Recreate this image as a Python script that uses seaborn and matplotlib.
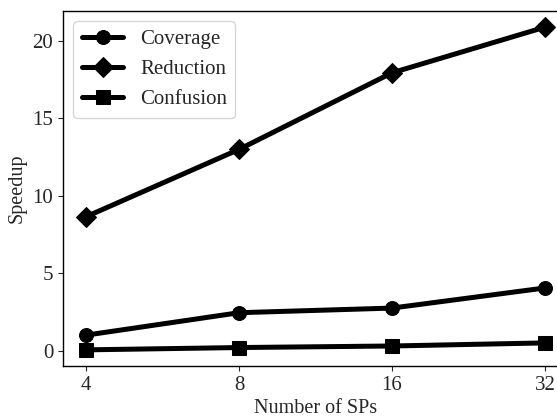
import matplotlib
matplotlib.use("Agg")
import matplotlib.pyplot as plt
import seaborn as sns
import pandas as pd

sps = ["4", "8", "16", "32"]
coverage = [1.0, 2.45, 2.75, 4.05]
reduction = [8.65, 13.0, 17.95, 20.9]
confusion = [0.05, 0.2, 0.3, 0.5]
series_names = ["Coverage", "Reduction", "Confusion"]

df = pd.DataFrame({
    "sps": sps * 3,
    "speedup": coverage + reduction + confusion,
    "series": [series_names[0]] * 4 + [series_names[1]] * 4 + [series_names[2]] * 4,
})

sns.set_style("ticks")
plt.rcParams["font.family"] = ["Liberation Serif", "DejaVu Serif"]

fig = plt.figure(figsize=(5.57, 4.17), dpi=100)
ax = fig.add_axes([63 / 557, 51 / 417, 505 / 557, 355 / 417])

sns.lineplot(
    data=df, x="sps", y="speedup", hue="series", style="series",
    palette=["black"] * 3, markers={"Coverage": "o", "Reduction": "D", "Confusion": "s"},
    dashes=False, linewidth=3.6, markersize=10, markeredgecolor="black",
    ax=ax, sort=False,
)

ax.set_xlabel("Number of SPs", fontsize=14.5, labelpad=3)
ax.set_ylabel("Speedup", fontsize=14.5)
ax.tick_params(labelsize=15)
ax.set_yticks([0, 5, 10, 15, 20])
ax.legend(loc="upper left", fontsize=15, frameon=True, handlelength=2)
for s in ax.spines.values():
    s.set_linewidth(1.0)
    s.set_color("black")

fig.savefig("out.png", dpi=100)
